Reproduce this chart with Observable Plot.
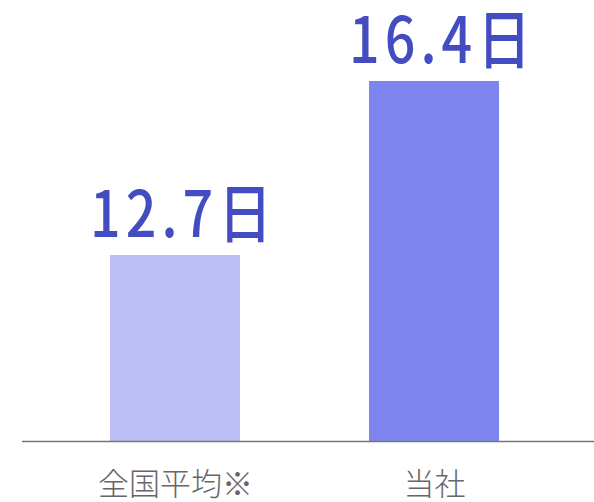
<!DOCTYPE html>
<html><head><meta charset="utf-8">
<script src="https://cdn.jsdelivr.net/npm/d3@7"></script>
<script src="https://cdn.jsdelivr.net/npm/@observablehq/plot@0.6"></script>
<style>
html,body{margin:0;padding:0;background:#fff;}
</style>
</head><body><div id="chart"></div>
<script>
const categories = ["全国平均※", "当社"];
const values = [12.7, 16.4];
const valueLabels = ["12.7日", "16.4日"];
const barColors = ["#babef4", "#7e85ef"];
const yFloor = 8.745;

const data = categories.map((c, i) => ({cat: c, value: values[i], label: valueLabels[i], color: barColors[i]}));

const chart = Plot.plot({
  width: 594,
  height: 502,
  marginLeft: 22,
  marginRight: 0,
  marginTop: 81,
  marginBottom: 61,
  style: {fontFamily: "'Noto Sans CJK JP', 'Noto Sans', sans-serif", background: "#fff", overflow: "visible"},
  x: {domain: categories, range: [45.1, 564.1], paddingInner: 0.5, paddingOuter: 0.25},
  y: {domain: [yFloor, 16.4], axis: null},
  marks: [
    Plot.barY(data, {x: "cat", y1: yFloor, y2: "value", fill: "color"}),
    Plot.ruleY([yFloor], {stroke: "#777", strokeWidth: 1.5}),
    Plot.text(data, {x: "cat", y: "value", text: "label", dx: 8, dy: -19, lineAnchor: "bottom", fontSize: 64, fontWeight: 500, fill: "#434cc0", className: "vlabel"}),
    Plot.axisX({tickSize: 0, tickPadding: 31, fontSize: 31, fontWeight: 300, color: "#666", label: null})
  ]
});
document.getElementById("chart").appendChild(chart);
d3.select(chart).selectAll(".vlabel text").each(function() {
  const t = d3.select(this);
  const tr = t.attr("transform") || "";
  t.attr("transform", tr + " scale(0.84,1)").style("letter-spacing", "6px");
});
</script>
</body></html>
